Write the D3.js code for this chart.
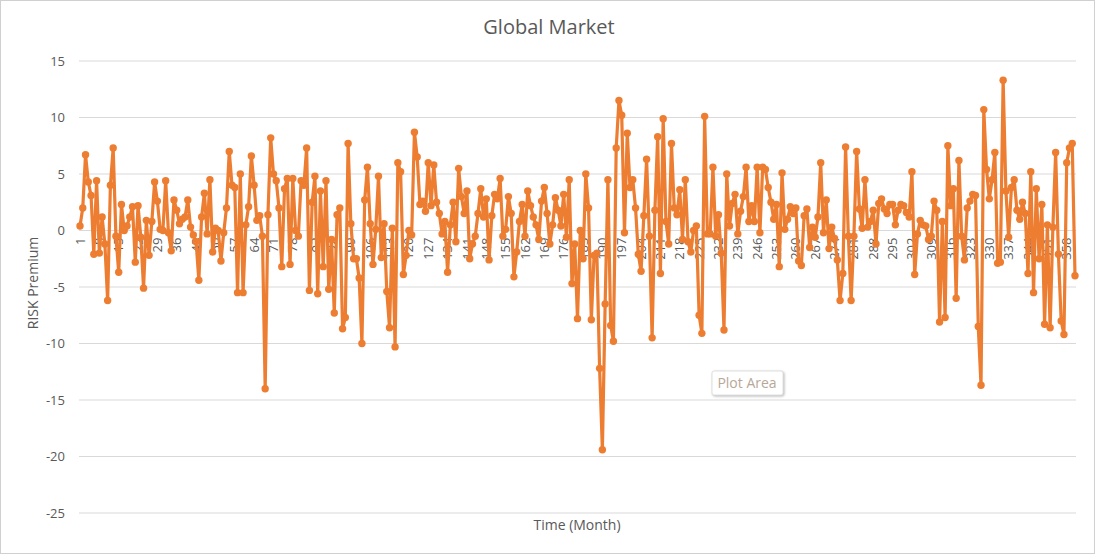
<!DOCTYPE html>
<html><head><meta charset="utf-8">
<script src="https://cdn.jsdelivr.net/npm/d3@7"></script>
<style>body{margin:0;background:#fff;font-family:"Open Sans","Noto Sans",sans-serif}</style>
</head><body><svg id="c" width="1095" height="557"></svg>
<script>
const seg1=[0.4,2,6.7,4.3,3.1,-2.1,4.4,-2,1.2,-1.2,-6.2,4,7.3,-0.5,-3.7,2.3,0,0.4,1.2,2.1,-2.8,2.2,-0.6,-5.1,0.9,-2.2,0.8,4.3,2.6,0.1,0,4.4,-0.2,-1.8,2.7,1.8,0.6,1,1.2,2.7,0.3,-0.4,-1,-4.4,1.2,3.3,-0.3,4.5,-1.9,0.2,0,-2.7,-0.2,2,7,4,3.8,-5.5,5,-5.5];
const seg2=[0.5,2.1,6.6,4,0.9,1.3,-0.5,-14,1.4,8.2,5,4.4,2,-3.2,3.7,4.6,-3,4.6,0,-0.5,4.4,4,7.3,-5.3,2.5,4.8,-5.6,3.5,-3.2,4.4,-5.2,-0.8,-7.3,1.4,2,-8.7,-7.7,7.7,0.6,-2.5,-2.5,-4.2,-10,2.7,5.6,0.6,-3,0.1,4.8,-2.4,0.6,-5.4,-8.6,0.2,-10.3,6,5.2,-3.9,-2.2,0];
const seg3=[-0.4,8.7,6.5,2.3,2.6,1.7,6,2.2,5.8,2.5,1.5,-0.3,0.8,-3.7,0.5,2.5,-1,5.5,3,1.5,3.5,-2.5,-1.2,-0.5,1.5,3.7,1.2,2.8,-2.6,1.3,3.2,2.8,4.6,-0.5,0.1,3,1.5,-4.1,-1.9,0.8,2.3,-0.5,3.5,2.2,1.2,0.5,-0.8,2.6,3.8,1.5,-1.2,0.5,2.9,1.8,0.4,3.2,-0.6,4.5,-4.7,-1.2,-7.8,0,-2.5,5];
const seg4=[2,-7.9,-2.2,-2,-12.2,-19.4,-6.5,4.5,-8.4,-9.8,7.3,11.5,10.2,-0.2,8.6,3.8,4.5,2,-2.1,-3.6,1.3,6.3,-0.5,-9.5,1.8,8.3,-3.8,9.9,0.8,-1.2,7.7,2,1.4,3.6,-0.8,4.5,-1,-1.9,0,0.4,-7.5,-9.1,10.1,-0.3,-0.3,5.6,-0.5,1.4,-2,-8.8,5,0.4,2.4,3.2,-0.3,1.7,3,5.6,0.8,2.2];
const seg5=[0.8,5.6,-0.2,5.6,5.4,3.8,2.5,1,2.3,-3.2,5.1,0.1,1,2.1,1.5,2,-2.7,-3.1,1.3,1.9,-1.5,0.3,-0.6,1.2,6,-0.2,2.7,-1.6,0.3,-0.7,-2.6,-6.2,-3.8,7.4,-0.5,-6.2,-0.5,7,1.9,0.2,4.5,0.3,0.8,1.8,-1.2,2.4,2.8,1.9,1.5,2.3,2.3,0.5,1.8,2.3,2.2,1.6,1.2,5.2];
const seg6=[-3.9,-0.3,0.9,0.5,0.4,-0.8,-0.5,2.6,1.8,-8.1,0.8,-7.7,7.5,2.2,3.7,-6,6.2,-0.5,-2.6,2,2.6,3.2,3.1,-8.5,-13.7,10.7,5.4,2.8,4.5,6.9,-2.9,-2.8,13.3,3.5,-0.6,3.8,4.5,1.8,1,2.5,1.5,-3.8,5.2,-5.5,3.7,-2.5,2.3,-8.3,0.5,-8.6,0.3,6.9,-2.1,-8,-9.2,6,7.3,7.7,-4];
const values=[...seg1,...seg2,...seg3,...seg4,...seg5,...seg6];
const months=values.map((d,i)=>i+1);
const yTicks=[15,10,5,0,-5,-10,-15,-20,-25];
const xTickLabels=months.filter(m=>(m-1)%7===0);

const svg=d3.select("#c");
const gray="#595959";
svg.append("rect").attr("x",0.5).attr("y",0.5).attr("width",1094).attr("height",553).attr("fill","#fff").attr("stroke","#d0d0d0");
const x=d3.scalePoint().domain(months).range([80,1075]);
const y=d3.scaleLinear().domain([-25,15]).range([513,61]);

svg.append("g").selectAll("line").data(yTicks).join("line")
 .attr("x1",79).attr("x2",1076).attr("y1",d=>y(d)).attr("y2",d=>y(d))
 .attr("stroke","#d9d9d9").attr("stroke-width",1);
svg.append("g").selectAll("text").data(yTicks).join("text")
 .attr("x",65).attr("y",d=>y(d)).attr("dy","0.35em").attr("text-anchor","end")
 .attr("fill",gray).attr("font-size",13).text(d=>d);

svg.append("g").selectAll("text").data(xTickLabels).join("text")
 .attr("transform",d=>`translate(${x(d)},${y(0)+7}) rotate(-90)`)
 .attr("text-anchor","end").attr("dy","0.35em").attr("fill",gray).attr("font-size",13).text(d=>d);

const line=d3.line().x((d,i)=>x(months[i])).y(d=>y(d));
svg.append("path").datum(values).attr("d",line).attr("fill","none")
 .attr("stroke","#ED7D31").attr("stroke-width",3.2).attr("stroke-linejoin","round");
svg.append("g").selectAll("circle").data(values).join("circle")
 .attr("cx",(d,i)=>x(months[i])).attr("cy",d=>y(d)).attr("r",3.7).attr("fill","#ED7D31");

svg.append("text").attr("x",549).attr("y",34).attr("text-anchor","middle").attr("fill",gray).attr("font-size",20).text("Global Market");
svg.append("text").attr("transform","translate(38,283) rotate(-90)").attr("text-anchor","middle").attr("fill",gray).attr("font-size",14).text("RISK Premium");
svg.append("text").attr("x",577).attr("y",530).attr("text-anchor","middle").attr("fill",gray).attr("font-size",14).text("Time (Month)");
const tip=svg.append("g");
tip.append("rect").attr("x",712).attr("y",371).attr("width",71).attr("height",24).attr("rx",2).attr("fill","#fff").attr("stroke","#e0e0e0").style("filter","drop-shadow(1px 1px 1px #bbb)");
tip.append("text").attr("x",747).attr("y",388).attr("text-anchor","middle").attr("fill","#b8a898").attr("font-size",14).text("Plot Area");
</script></body></html>
